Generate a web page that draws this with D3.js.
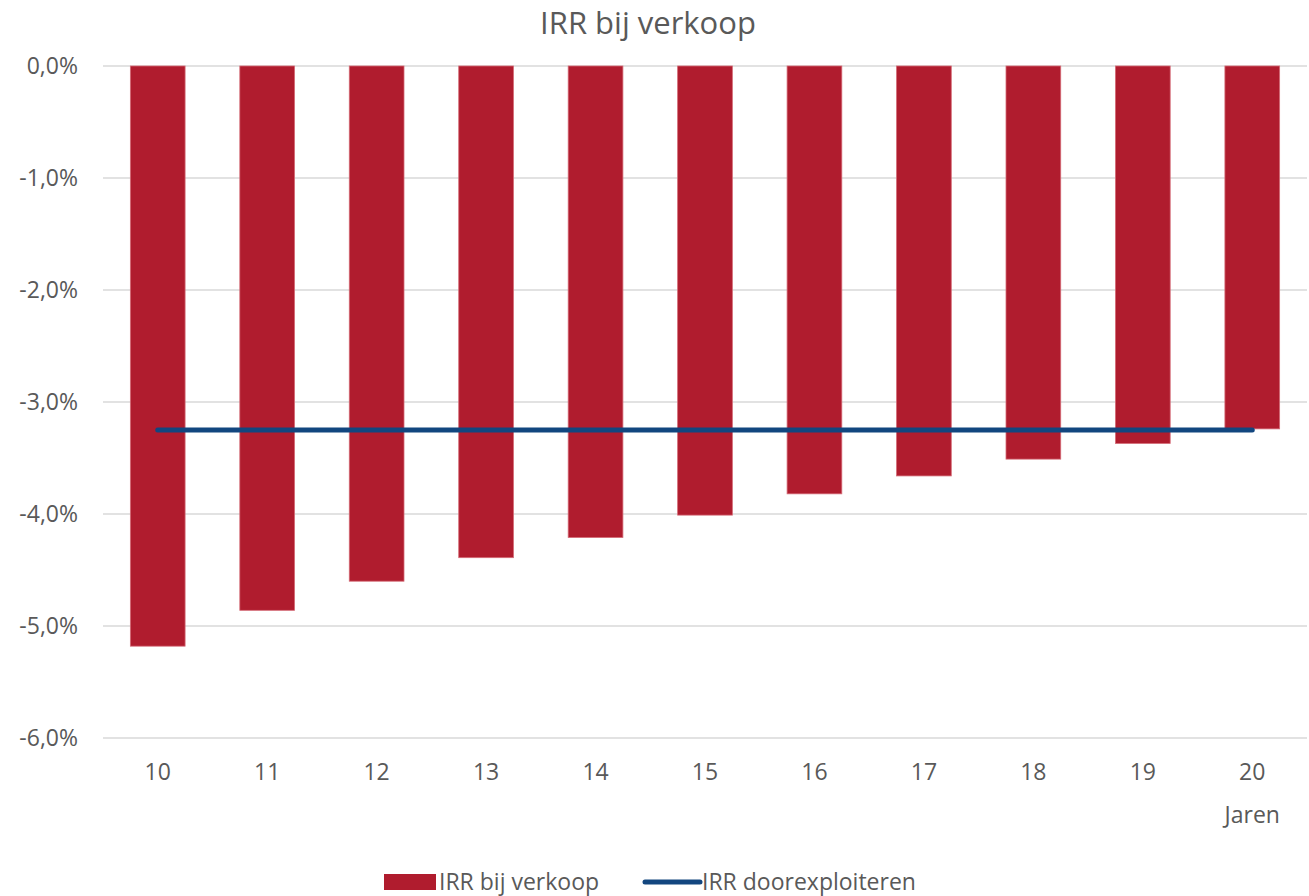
<!DOCTYPE html>
<html>
<head>
<meta charset="utf-8">
<script src="https://cdn.jsdelivr.net/npm/d3@7"></script>
<style>
  body { margin: 0; background: #fff; }
  svg text { font-family: "Open Sans", "Liberation Sans", sans-serif; fill: #595959; }
</style>
</head>
<body>
<script>
// data
var years = ["10", "11", "12", "13", "14", "15", "16", "17", "18", "19", "20"];
var irrVerkoop = [-5.18, -4.86, -4.60, -4.39, -4.21, -4.01, -3.82, -3.66, -3.51, -3.37, -3.24];
var irrDoorexploiteren = [-3.25, -3.25, -3.25, -3.25, -3.25, -3.25, -3.25, -3.25, -3.25, -3.25, -3.25];
var yTicks = [0, -1, -2, -3, -4, -5, -6];

var w = 1309, h = 896;
var margin = {top: 66, right: 2, bottom: 158, left: 103};

var svg = d3.select('body')
            .append('svg')
            .attr('width', w)
            .attr('height', h);

var x = d3.scaleBand()
          .domain(years)
          .range([margin.left, w - margin.right])
          .paddingInner(0.5)
          .paddingOuter(0.25);

var y = d3.scaleLinear()
          .domain([0, -6])
          .range([margin.top, h - margin.bottom]);

var fmt = function(v){ return d3.format('.1f')(v).replace('.', ',').replace('−', '-') + '%'; };

// gridlines
svg.append('g')
   .selectAll('line')
   .data(yTicks)
   .enter()
   .append('line')
   .attr('x1', margin.left)
   .attr('x2', w - margin.right)
   .attr('y1', function(d){ return y(d); })
   .attr('y2', function(d){ return y(d); })
   .attr('stroke', '#d9d9d9')
   .attr('stroke-width', 1.5);

// y axis labels
svg.append('g')
   .selectAll('text')
   .data(yTicks)
   .enter()
   .append('text')
   .attr('x', 78)
   .attr('y', function(d){ return y(d); })
   .attr('dy', '0.35em')
   .attr('text-anchor', 'end')
   .style('font-size', '23px')
   .text(function(d){ return d === 0 ? '0,0%' : fmt(d); });

// bars
svg.append('g')
   .selectAll('rect')
   .data(irrVerkoop)
   .enter()
   .append('rect')
   .attr('x', function(d, i){ return x(years[i]); })
   .attr('y', y(0))
   .attr('width', x.bandwidth())
   .attr('height', function(d){ return y(d) - y(0); })
   .attr('fill', '#b01c2e')
   .attr('stroke', '#d46a76')
   .attr('stroke-width', 0.8);

// line
var line = d3.line()
             .x(function(d, i){ return x(years[i]) + x.bandwidth() / 2; })
             .y(function(d){ return y(d); });

svg.append('path')
   .datum(irrDoorexploiteren)
   .attr('d', line)
   .attr('fill', 'none')
   .attr('stroke', '#12467f')
   .attr('stroke-width', 5)
   .attr('stroke-linecap', 'round');

// x axis labels
svg.append('g')
   .selectAll('text')
   .data(years)
   .enter()
   .append('text')
   .attr('x', function(d){ return x(d) + x.bandwidth() / 2; })
   .attr('y', 772)
   .attr('dy', '0.35em')
   .attr('text-anchor', 'middle')
   .style('font-size', '23px')
   .text(function(d){ return d; });

svg.append('text')
   .attr('x', x('20') + x.bandwidth() / 2)
   .attr('y', 815)
   .attr('dy', '0.35em')
   .attr('text-anchor', 'middle')
   .style('font-size', '23px')
   .text('Jaren');

// title
svg.append('text')
   .attr('x', 648)
   .attr('y', 23)
   .attr('dy', '0.35em')
   .attr('text-anchor', 'middle')
   .style('font-size', '31px')
   .text('IRR bij verkoop');

// legend
var legend = svg.append('g');
legend.append('rect')
      .attr('x', 384)
      .attr('y', 874)
      .attr('width', 52)
      .attr('height', 16)
      .attr('fill', '#b01c2e');
legend.append('text')
      .attr('x', 439)
      .attr('y', 882)
      .attr('dy', '0.35em')
      .style('font-size', '23px')
      .text('IRR bij verkoop');
legend.append('line')
      .attr('x1', 645)
      .attr('x2', 700)
      .attr('y1', 882)
      .attr('y2', 882)
      .attr('stroke', '#12467f')
      .attr('stroke-width', 5)
      .attr('stroke-linecap', 'round');
legend.append('text')
      .attr('x', 702)
      .attr('y', 882)
      .attr('dy', '0.35em')
      .style('font-size', '23px')
      .text('IRR doorexploiteren');
</script>
</body>
</html>
